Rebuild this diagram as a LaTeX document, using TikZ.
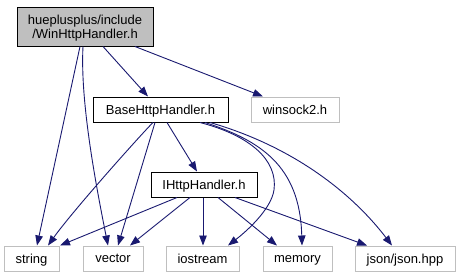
\documentclass[tikz,border=0pt]{standalone}
\usepackage{fontspec}
\setmainfont{Liberation Sans}
\usetikzlibrary{arrows.meta}
\definecolor{edgeblue}{HTML}{191970}
\definecolor{boxgray}{HTML}{BFBFBF}
\begin{document}
\begin{tikzpicture}[x=1pt,y=-1pt,
  every node/.style={font=\fontsize{13}{14}\selectfont, inner sep=0pt, text depth=0pt},
  filebox/.style={draw=black, line width=1pt, rectangle, minimum height=25pt},
  mainbox/.style={filebox, fill=boxgray, minimum height=39pt, align=center},
  extbox/.style={draw=boxgray, line width=1pt, rectangle, minimum height=25pt},
  dep/.style={draw=edgeblue, line width=0.9pt, -{Triangle[length=10pt,width=7.5pt]}}]
\useasboundingbox (0,0) rectangle (460,277);

% headers of the project
\node[mainbox, minimum width=136pt] (win) at (85,26.5) {hueplusplus/include\\/WinHttpHandler.h};
\node[filebox, minimum width=135pt] (base) at (160.5,109.5) {BaseHttpHandler.h};
\node[filebox, minimum width=106pt] (ih) at (204,184.5) {IHttpHandler.h};

% system and library headers
\node[extbox, minimum width=88pt] (ws) at (295,109.5) {winsock2.h};
\node[extbox, minimum width=55pt] (str) at (31.5,258.5) {string};
\node[extbox, minimum width=60pt] (vec) at (113,258.5) {vector};
\node[extbox, minimum width=73pt] (ios) at (202.5,258.5) {iostream};
\node[extbox, minimum width=69pt] (mem) at (297.5,258.5) {memory};
\node[extbox, minimum width=100pt] (json) at (405,258.5) {json/json.hpp};

% includes of WinHttpHandler.h
\draw[dep] ([xshift=-5pt]win.south) -- ([xshift=5.5pt]str.north);
\draw[dep] ([xshift=-2pt]win.south) .. controls +(-3,55) and +(-12,-60) .. ([xshift=-5pt]vec.north);
\draw[dep] ([xshift=18pt]win.south) -- ([xshift=-12.5pt]base.north);
\draw[dep] ([xshift=50pt]win.south) -- ([xshift=-32pt]ws.north);

% includes of BaseHttpHandler.h
\draw[dep] ([xshift=-7.5pt]base.south) .. controls +(-12,12) and +(25,-35) .. ([xshift=16.5pt]str.north);
\draw[dep] ([xshift=-5.5pt]base.south) -- ([xshift=5pt]vec.north);
\draw[dep] ([xshift=6.5pt]base.south) -- ([xshift=-7pt]ih.north);
\draw[dep] ([xshift=39.5pt]base.south) .. controls +(50,13) and +(4,-30) .. (274,190) .. controls +(-3,20) and +(17,-13) .. ([xshift=25.5pt]ios.north);
\draw[dep] ([xshift=44.5pt]base.south) .. controls +(55,18) and +(-2,-80) .. ([xshift=4.5pt]mem.north);
\draw[dep] ([xshift=49.5pt]base.south) .. controls +(80,23) and +(-42,-55) .. ([xshift=-13pt]json.north);

% includes of IHttpHandler.h
\draw[dep] ([xshift=-27pt]ih.south) -- ([xshift=28.5pt]str.north);
\draw[dep] ([xshift=-14pt]ih.south) -- ([xshift=17pt]vec.north);
\draw[dep] ([xshift=-1pt]ih.south) -- ([xshift=0.5pt]ios.north);
\draw[dep] ([xshift=14pt]ih.south) -- ([xshift=-20.5pt]mem.north);
\draw[dep] ([xshift=31pt]ih.south) -- ([xshift=-38pt]json.north);
\end{tikzpicture}
\end{document}
